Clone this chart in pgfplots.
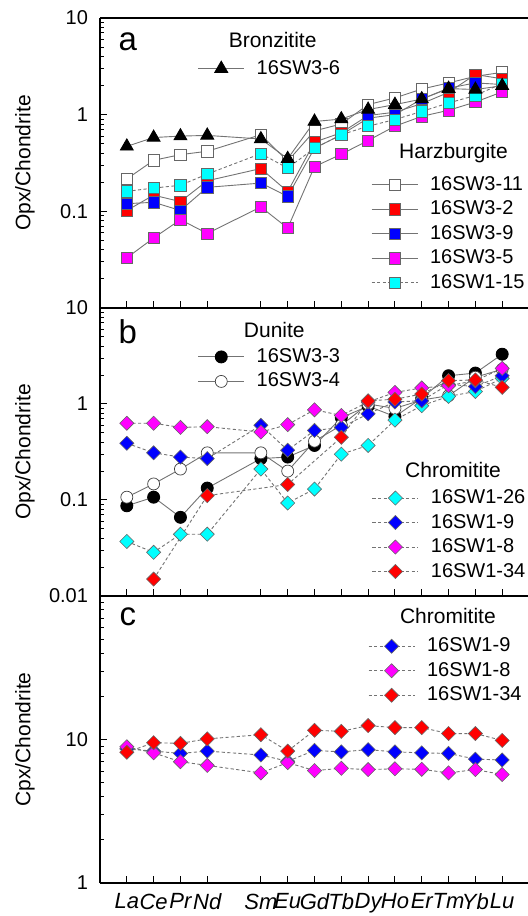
\documentclass[border=0pt]{standalone}
\usepackage{fontspec}
\setmainfont{Liberation Sans}
\usepackage{pgfplots}
\pgfplotsset{compat=1.18}
\definecolor{cR}{RGB}{255,0,0}
\definecolor{cB}{RGB}{0,0,255}
\definecolor{cM}{RGB}{255,0,255}
\definecolor{cC}{RGB}{0,255,255}
\tikzset{
  hdr/.style={anchor=west, font=\fontsize{10.5}{12}\selectfont},
  lett/.style={font=\fontsize{16.5}{19}\selectfont},
}
\pgfplotsset{
  lin/.style={color=black!55, line width=0.45pt, solid},
  dsh/.style={color=black!55, line width=0.45pt, dash pattern=on 1.6pt off 1.2pt},
  sq/.style={mark=square*, mark size=2.8pt, mark options={solid, fill=#1, draw=black!60, line width=0.35pt}},
  tri/.style={mark=triangle*, mark size=3.7pt, mark options={solid, fill=black, draw=black}},
  circ/.style={mark=*, mark size=3pt, mark options={solid, fill=#1, draw=black!75, line width=0.35pt}},
  dia/.style={mark=square*, mark size=2.5pt, mark options={solid, rotate=45, fill=#1, draw=black!60, line width=0.3pt}},
  myaxis/.style={
    scale only axis, width=214.5pt, xmin=0, xmax=16,
    axis y line*=left,
    xtick={1,2,3,4,6,7,8,9,10,11,12,13,14,15}, xticklabels={},
    xtick pos=bottom, ytick pos=left,
    tick align=inside,
    major tick length=3.5pt, minor tick length=2pt,
    tick style={line width=0.5pt, black},
    axis line style={line width=0.6pt},
    yticklabel style={font=\fontsize{10}{12}\selectfont, xshift=-2.5pt},
    ylabel style={font=\fontsize{10.5}{12}\selectfont, at={(axis description cs:-0.175,0.5)}, anchor=center},
    legend style={draw=none, fill=none, anchor=north west, inner sep=0pt, outer sep=0pt,
      font=\fontsize{10}{12}\selectfont, row sep=0.75pt,
      nodes={inner sep=1pt, text height=7.5pt, text depth=2pt},
      /tikz/every odd column/.append style={column sep=5pt}},
    legend cell align=left,
    legend image code/.code={\draw[mark repeat=2, mark phase=2] plot coordinates {(0pt,0pt) (11.5pt,0pt) (23pt,0pt)};},
  },
}
\begin{document}
\begin{tikzpicture}
\useasboundingbox (0,0) rectangle (264pt,458pt);
% ---------------- panel a ----------------
\begin{axis}[myaxis, ymode=log, at={(50pt,304pt)}, anchor=south west, height=145pt,
  ymin=0.01, ymax=10, yticklabels={,,0.1,1,10},
  ylabel={Opx/Chondrite},
  legend style={at={(axis description cs:0.632,0.464)}}]
\addplot[lin, sq=white] coordinates {(1,0.216)(2,0.337)(3,0.386)(4,0.418)(6,0.62)(7,0.33)(8,0.68)(9,0.80)(10,1.27)(11,1.49)(12,1.84)(13,2.13)(14,2.49)(15,2.74)};
\addlegendentry{16SW3-11}
\addplot[lin, sq=cR] coordinates {(1,0.102)(2,0.147)(3,0.126)(4,0.207)(6,0.277)(7,0.16)(8,0.52)(9,0.65)(10,0.98)(11,1.06)(12,1.30)(13,1.70)(14,2.60)(15,2.35)};
\addlegendentry{16SW3-2}
\addplot[lin, sq=cB] coordinates {(1,0.12)(2,0.124)(3,0.102)(4,0.177)(6,0.196)(7,0.143)(8,0.45)(9,0.62)(10,0.92)(11,1.0)(12,1.45)(13,1.88)(14,2.13)(15,2.05)};
\addlegendentry{16SW3-9}
\addplot[lin, sq=cM] coordinates {(1,0.033)(2,0.053)(3,0.082)(4,0.059)(6,0.111)(7,0.067)(8,0.29)(9,0.39)(10,0.54)(11,0.76)(12,0.96)(13,1.11)(14,1.35)(15,1.72)};
\addlegendentry{16SW3-5}
\addplot[dsh, sq=cC] coordinates {(1,0.161)(2,0.174)(3,0.186)(4,0.243)(6,0.395)(7,0.28)(8,0.45)(9,0.62)(10,0.76)(11,0.89)(12,1.08)(13,1.32)(14,1.58)(15,2.1)};
\addlegendentry{16SW1-15}
\addplot[lin, tri, forget plot] coordinates {(1,0.47)(2,0.58)(3,0.60)(4,0.61)(6,0.56)(7,0.35)(8,0.85)(9,0.90)(10,1.13)(11,1.27)(12,1.45)(13,1.86)(14,1.82)(15,1.99)};
\node[lett] at (axis description cs:0.065,0.917) {a};
\node[hdr] at (axis description cs:0.284,0.924) {Bronzitite};
\node[hdr] at (axis description cs:0.681,0.534) {Harzburgite};
\end{axis}
\begin{axis}[myaxis, ymode=log, hide axis, at={(50pt,304pt)}, anchor=south west, height=145pt,
  ymin=0.01, ymax=10, legend style={at={(axis description cs:0.228,0.865)}}]
\addlegendimage{lin, tri}
\addlegendentry{16SW3-6}
\end{axis}
% ---------------- panel b ----------------
\begin{axis}[myaxis, ymode=log, at={(50pt,160pt)}, anchor=south west, height=144pt,
  ymin=0.01, ymax=10, yticklabels={,0.01,0.1,1,10},
  ylabel={Opx/Chondrite},
  legend style={at={(axis description cs:0.634,0.380)}}]
\addplot[lin, circ=black, mark options={fill=black, draw=black}, forget plot] coordinates {(1,0.087)(2,0.107)(3,0.066)(4,0.133)(6,0.27)(7,0.28)(8,0.37)(9,0.72)(10,0.95)(11,0.74)(12,1.15)(13,1.97)(14,2.1)(15,3.3)};
\addplot[lin, circ=white, forget plot] coordinates {(1,0.107)(2,0.147)(3,0.21)(4,0.31)(6,0.31)(7,0.20)(8,0.41)(9,0.60)(10,1.0)(11,0.90)(12,1.1)(13,1.22)(14,1.9)(15,2.3)};
\addplot[dsh, dia=cC] coordinates {(1,0.037)(2,0.0285)(3,0.044)(4,0.044)(6,0.21)(7,0.093)(8,0.13)(9,0.30)(10,0.37)(11,0.68)(12,0.96)(13,1.2)(14,1.35)(15,1.85)};
\addlegendentry{16SW1-26}
\addplot[dsh, dia=cB] coordinates {(1,0.39)(2,0.31)(3,0.28)(4,0.27)(6,0.60)(7,0.33)(8,0.53)(9,0.57)(10,0.79)(11,1.05)(12,1.08)(13,1.6)(14,1.52)(15,1.97)};
\addlegendentry{16SW1-9}
\addplot[dsh, dia=cM] coordinates {(1,0.63)(2,0.63)(3,0.57)(4,0.58)(6,0.51)(7,0.61)(8,0.87)(9,0.76)(10,1.05)(11,1.32)(12,1.47)(13,1.55)(14,1.75)(15,2.35)};
\addlegendentry{16SW1-8}
\addplot[dsh, dia=cR] coordinates {(2,0.015)(4,0.111)(7,0.145)(9,0.45)(10,1.08)(11,1.12)(12,1.27)(13,1.75)(14,1.78)(15,1.49)};
\addlegendentry{16SW1-34}
\node[lett] at (axis description cs:0.065,0.917) {b};
\node[hdr] at (axis description cs:0.319,0.924) {Dunite};
\node[hdr] at (axis description cs:0.695,0.4375) {Chromitite};
\end{axis}
\begin{axis}[myaxis, ymode=log, hide axis, at={(50pt,160pt)}, anchor=south west, height=144pt,
  ymin=0.01, ymax=10, legend style={at={(axis description cs:0.228,0.870)}}]
\addlegendimage{lin, circ=black, mark options={fill=black, draw=black}}
\addlegendentry{16SW3-3}
\addlegendimage{lin, circ=white}
\addlegendentry{16SW3-4}
\end{axis}
% ---------------- panel c ----------------
\begin{axis}[myaxis, ymode=log, at={(50pt,16.5pt)}, anchor=south west, height=143.5pt,
  ymin=1, ymax=100, yticklabels={1,10,},
  xticklabels={La,Ce,Pr,Nd,Sm,Eu,Gd,Tb,Dy,Ho,Er,Tm,Yb,Lu},
  xticklabel style={font=\itshape\fontsize{11}{13}\selectfont, yshift=-1.8pt},
  ylabel={Cpx/Chondrite},
  legend style={at={(axis description cs:0.625,0.865)}}]
\addplot[dsh, dia=cB] coordinates {(1,8.6)(2,8.3)(3,8.0)(4,8.3)(6,7.8)(7,7.05)(8,8.4)(9,8.2)(10,8.5)(11,8.2)(12,8.07)(13,8.0)(14,7.3)(15,7.2)};
\addlegendentry{16SW1-9}
\addplot[dsh, dia=cM] coordinates {(1,8.9)(2,8.07)(3,7.0)(4,6.6)(6,5.85)(7,6.9)(8,6.07)(9,6.3)(10,6.17)(11,6.25)(12,6.2)(13,5.85)(14,6.17)(15,5.7)};
\addlegendentry{16SW1-8}
\addplot[dsh, dia=cR] coordinates {(1,8.15)(2,9.5)(3,9.4)(4,10.1)(6,10.8)(7,8.3)(8,11.6)(9,11.4)(10,12.5)(11,12.1)(12,12.1)(13,11.0)(14,11.0)(15,9.85)};
\addlegendentry{16SW1-34}
\node[lett] at (axis description cs:0.065,0.927) {c};
\node[hdr] at (axis description cs:0.683,0.930) {Chromitite};
\end{axis}
\end{tikzpicture}
\end{document}
